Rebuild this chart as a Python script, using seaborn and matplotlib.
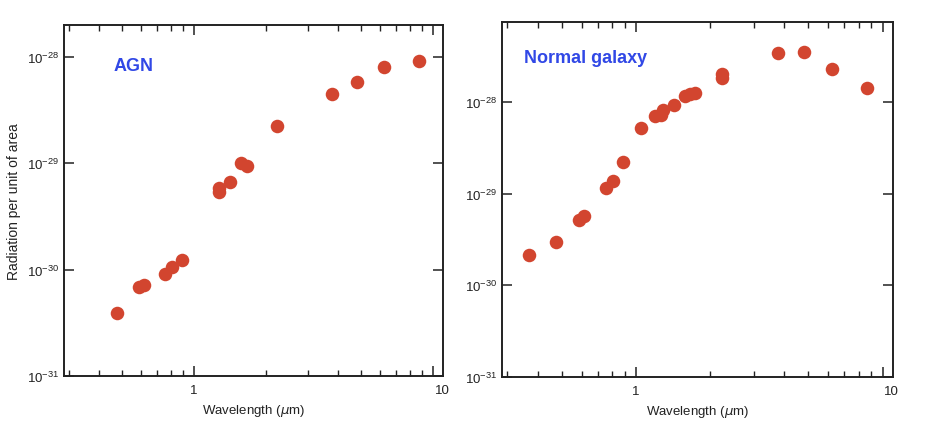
import numpy as np
import pandas as pd
import seaborn as sns
import matplotlib.pyplot as plt
import matplotlib.transforms as mtransforms
from matplotlib.ticker import FixedLocator, NullFormatter, NullLocator

# wavelengths (micron) and flux
agn_wave = [0.478, 0.59, 0.62, 0.76, 0.81, 0.89, 1.27, 1.27, 1.42, 1.58, 1.67,
            2.23, 3.78, 4.82, 6.24, 8.77]
agn_flux = [3.9e-31, 6.8e-31, 7.2e-31, 9.1e-31, 1.05e-30, 1.23e-30, 5.4e-30, 5.9e-30,
            6.7e-30, 1.0e-29, 9.5e-30, 2.25e-29, 4.5e-29, 5.8e-29, 8.0e-29, 9.1e-29]

gal_wave = [0.366, 0.474, 0.584, 0.615, 0.755, 0.803, 0.883, 1.044, 1.197, 1.26, 1.28,
            1.43, 1.58, 1.66, 1.74, 2.24, 2.24, 3.78, 4.82, 6.22, 8.61]
gal_flux = [2.14e-30, 3.0e-30, 5.13e-30, 5.7e-30, 1.17e-29, 1.38e-29, 2.21e-29, 5.2e-29,
            7.14e-29, 7.26e-29, 8.3e-29, 9.3e-29, 1.16e-28, 1.22e-28, 1.26e-28, 1.86e-28,
            2.02e-28, 3.46e-28, 3.51e-28, 2.31e-28, 1.42e-28]

x_major = [1, 10]
x_minor = [0.3, 0.4, 0.5, 0.6, 0.7, 0.8, 0.9, 2, 3, 4, 5, 6, 7, 8, 9]
y_major = [1e-31, 1e-30, 1e-29, 1e-28]

sns.set_style("ticks")
plt.rcParams['font.family'] = ['Liberation Sans', 'DejaVu Sans']
plt.rcParams['mathtext.fontset'] = 'dejavusans'

red = "#d2452f"
blue = "#3148e6"

fig = plt.figure(figsize=(9.25, 4.39), dpi=100)
ax1 = fig.add_axes([0.0692, 0.1412, 0.4097, 0.7996])
ax2 = fig.add_axes([0.5430, 0.1396, 0.4221, 0.8087])

agn = pd.DataFrame({"wave": agn_wave, "flux": agn_flux})
gal = pd.DataFrame({"wave": gal_wave, "flux": gal_flux})

panels = [(ax1, agn, 2.0e-28), (ax2, gal, 7.6e-28)]
for ax, df, ytop in panels:
    sns.scatterplot(data=df, x="wave", y="flux", ax=ax, color=red, s=95,
                    linewidth=0, zorder=3)
    ax.set_xscale("log")
    ax.set_yscale("log")
    ax.set_xlim(0.286, 11.0)
    ax.set_ylim(1e-31, ytop)
    ax.xaxis.set_major_locator(FixedLocator(x_major))
    ax.set_xticklabels(["1", "10"])
    ax.xaxis.set_minor_locator(FixedLocator(x_minor))
    ax.xaxis.set_minor_formatter(NullFormatter())
    ax.yaxis.set_major_locator(FixedLocator(y_major))
    ax.yaxis.set_minor_locator(NullLocator())
    ax.tick_params(axis="both", which="both", direction="in", top=True, right=True,
                   color="#222222", labelsize=9.5, labelcolor="#222222")
    ax.tick_params(axis="both", which="major", length=7, width=1.1)
    ax.tick_params(axis="x", which="minor", length=4, width=1.0)
    ax.tick_params(axis="x", which="major", pad=6)
    for sp in ax.spines.values():
        sp.set_linewidth(1.4)
        sp.set_color("#222222")
    ax.set_xlabel("Wavelength ($\\mu$m)", fontsize=9.5, color="#222222", labelpad=4)
    ax.set_ylabel("")
    # the "10" label sits at the frame edge in the original
    lab = ax.get_xticklabels()[1]
    lab.set_transform(lab.get_transform() +
                      mtransforms.ScaledTranslation(9 / 100, 0, fig.dpi_scale_trans))

ax1.set_ylabel("Radiation per unit of area", fontsize=10, color="#222222", labelpad=4)
ax1.text(0.13, 0.885, "AGN", transform=ax1.transAxes, color=blue, fontsize=13,
         fontweight="bold", va="center", ha="left")
ax2.text(0.055, 0.9, "Normal galaxy", transform=ax2.transAxes, color=blue, fontsize=13,
         fontweight="bold", va="center", ha="left")

fig.savefig("out.png", dpi=100)
